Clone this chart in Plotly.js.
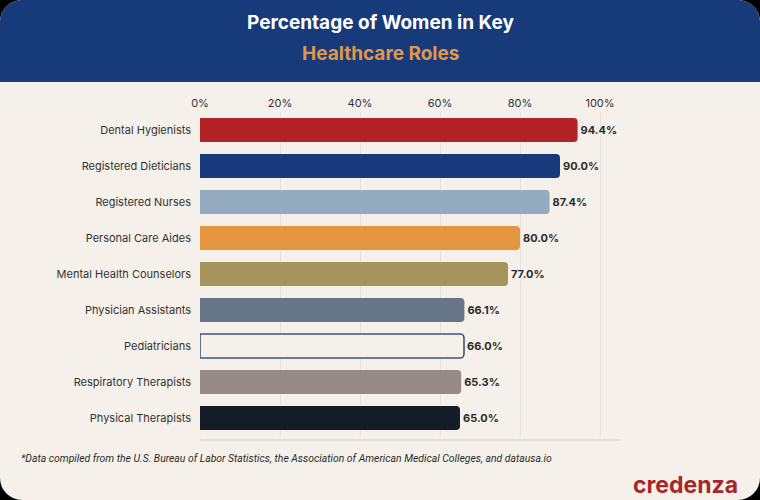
<!DOCTYPE html>
<html>
<head>
<meta charset="utf-8">
<script src="https://cdn.plot.ly/plotly-3.0.1.min.js"></script>
<style>
  html, body { margin: 0; padding: 0; background: #000; }
  #chart { width: 760px; height: 500px; border-radius: 22px; overflow: hidden; }
</style>
</head>
<body>
<div id="chart"></div>
<script>
// Share of women in each healthcare role (%)
const roles = [
  "Dental Hygienists",
  "Registered Dieticians",
  "Registered Nurses",
  "Personal Care Aides",
  "Mental Health Counselors",
  "Physician Assistants",
  "Pediatricians",
  "Respiratory Therapists",
  "Physical Therapists"
];
const womenPct = [94.4, 90.0, 87.4, 80.0, 77.0, 66.1, 66.0, 65.3, 65.0];
const barColors = ["#b22226", "#163a7b", "#93aabf", "#e3963d", "#a3955b",
                   "#667587", "#f5f0ea", "#978b87", "#141c26"];
const outlineColors = ["#b22226", "#163a7b", "#93aabf", "#e3963d", "#a3955b",
                       "#667587", "#3e5286", "#978b87", "#141c26"];
const outlineWidths = [0, 0, 0, 0, 0, 0, 1.6, 0, 0];
const tickValues = [0, 20, 40, 60, 80, 100];
const tickLabels = ["0%", "20%", "40%", "60%", "80%", "100%"];

const cream = "#f5f0ea";
const navy = "#163a7a";

// plot area geometry in pixels, used to place header/footer items in paper units
const W = 760, H = 500;
const M = { l: 200, r: 140, t: 112, b: 64 };
const plotW = W - M.l - M.r, plotH = H - M.t - M.b;
const px = x => (x - M.l) / plotW;
const py = y => (H - M.b - y) / plotH;

const trace = {
  type: "bar",
  orientation: "h",
  y: roles,
  x: womenPct,
  width: 0.67,
  marker: {
    color: barColors,
    line: { color: outlineColors, width: outlineWidths }
  },
  text: womenPct.map(v => v.toFixed(1) + "%"),
  textposition: "outside",
  cliponaxis: false,
  textfont: { family: "Inter, Roboto, sans-serif", size: 11, color: "#2b2b2b", weight: 700 },
  hoverinfo: "skip"
};

const layout = {
  width: W,
  height: H,
  paper_bgcolor: cream,
  plot_bgcolor: cream,
  margin: M,
  showlegend: false,
  barcornerradius: 4,
  font: { family: "Inter, Roboto, sans-serif", color: "#333" },
  xaxis: {
    side: "top",
    range: [0, 105],
    tickmode: "array",
    tickvals: tickValues,
    ticktext: tickLabels,
    tickfont: { size: 11, color: "#333" },
    showgrid: true,
    gridcolor: "#e7e2db",
    gridwidth: 1,
    zeroline: false,
    showline: false,
    ticks: "",
    ticklabelstandoff: 2,
    fixedrange: true
  },
  yaxis: {
    autorange: "reversed",
    tickfont: { size: 11, color: "#333" },
    showgrid: false,
    zeroline: false,
    showline: false,
    ticks: "",
    ticklabelstandoff: 8,
    fixedrange: true
  },
  shapes: [
    // header band
    { type: "rect", xref: "paper", yref: "paper", x0: px(-10), x1: px(W + 10),
      y0: py(82), y1: py(-10), fillcolor: navy, line: { width: 0 }, layer: "below" },
    // gridlines continue down to the baseline
    ...tickValues.map(v => ({ type: "line", xref: "x", yref: "paper", x0: v, x1: v,
      y0: py(440), y1: 0, line: { color: "#e7e2db", width: 1 }, layer: "below" })),
    // baseline under the bars
    { type: "line", xref: "paper", yref: "paper", x0: 0, x1: px(620), y0: py(440), y1: py(440),
      line: { color: "#e3ded7", width: 2 } }
  ],
  annotations: [
    {
      text: "<b>Percentage of Women in Key</b>",
      xref: "paper", yref: "paper", x: px(380), y: py(23), xanchor: "center", yanchor: "middle",
      showarrow: false, font: { family: "Inter, Roboto, sans-serif", size: 19, color: "#ffffff" }
    },
    {
      text: "<b>Healthcare Roles</b>",
      xref: "paper", yref: "paper", x: px(380), y: py(53), xanchor: "center", yanchor: "middle",
      showarrow: false, font: { family: "Inter, Roboto, sans-serif", size: 19, color: "#e0974b" }
    },
    {
      text: "<i>*Data compiled from the U.S. Bureau of Labor Statistics, the Association of American Medical Colleges, and datausa.io</i>",
      xref: "paper", yref: "paper", x: px(19), y: py(458), xanchor: "left", yanchor: "middle",
      showarrow: false, font: { family: "Roboto, sans-serif", size: 10.4, color: "#2b2b2b" }
    },
    {
      text: "<b>credenza</b>",
      xref: "paper", yref: "paper", x: px(740), y: py(485), xanchor: "right", yanchor: "middle",
      showarrow: false, font: { family: "Inter, Roboto, sans-serif", size: 23, color: "#a8262a" }
    }
  ]
};

Plotly.newPlot("chart", [trace], layout, { displayModeBar: false, staticPlot: true });
</script>
</body>
</html>
